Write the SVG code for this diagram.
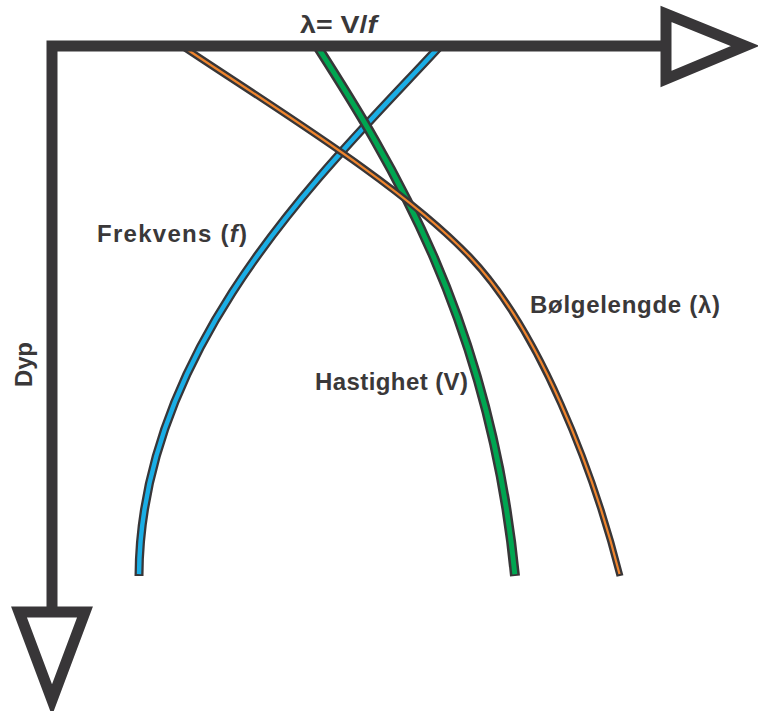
<svg xmlns="http://www.w3.org/2000/svg" width="758" height="711" viewBox="0 0 758 711">
<style>
.lbl{font-family:"Liberation Sans",Arial,sans-serif;font-weight:bold;font-size:24px;fill:#3a3839}
.ax{fill:none;stroke:#383638;stroke-width:11;stroke-linejoin:miter;stroke-miterlimit:10;stroke-linecap:butt}
.head{fill:#ffffff;stroke:#383638;stroke-width:11;stroke-linejoin:miter;stroke-miterlimit:10}
.out{fill:none;stroke:#383638;stroke-linecap:butt}
.in{fill:none;stroke-linecap:butt;stroke-dasharray:99.7 10}
</style>
<rect width="758" height="711" fill="#ffffff"/>
<g id="curves">
<g id="curve-frekvens">
<path class="out" stroke-width="9" d="M440,46 C335,160 140,340 139,576"/>
<path class="in" stroke="#1aaee6" stroke-width="4.4" pathLength="100" d="M440,46 C335,160 140,340 139,576"/>
</g>
<g id="curve-hastighet">
<path class="out" stroke-width="10" d="M317,46 C390,160 490,320 515,576"/>
<path class="in" stroke="#00a651" stroke-width="5" pathLength="100" d="M317,46 C390,160 490,320 515,576"/>
</g>
<g id="curve-bolgelengde">
<path class="out" stroke-width="7" d="M182,46 C273,107 401,184.5 470,257 C539,329.5 593,469 620,576"/>
<path class="in" stroke="#f0852d" stroke-width="2.2" pathLength="100" d="M182,46 C273,107 401,184.5 470,257 C539,329.5 593,469 620,576"/>
</g>
</g>
<g id="connectors">
<path class="ax" d="M52,612 L52,46 L667,46"/>
<polygon id="arrow-x" class="head" points="666,14 666,79 745,46"/>
<polygon id="arrow-y" class="head" points="19,612 85,612 52,700"/>
</g>
<g id="label-formula"><text class="lbl" x="300" y="33" textLength="77" lengthAdjust="spacingAndGlyphs">λ= V/<tspan font-style="italic">f</tspan></text></g>
<g id="label-frekvens"><text class="lbl" x="97" y="242" textLength="150" lengthAdjust="spacing">Frekvens (<tspan font-style="italic">f</tspan>)</text></g>
<g id="label-hastighet"><text class="lbl" x="315" y="390" textLength="153" lengthAdjust="spacing">Hastighet (V)</text></g>
<g id="label-bolgelengde"><text class="lbl" x="530" y="313" textLength="190" lengthAdjust="spacing">Bølgelengde (λ)</text></g>
<g id="label-dyp"><text class="lbl" transform="translate(32,387) rotate(-90)" x="0" y="0" textLength="45" lengthAdjust="spacing">Dyp</text></g>
</svg>
